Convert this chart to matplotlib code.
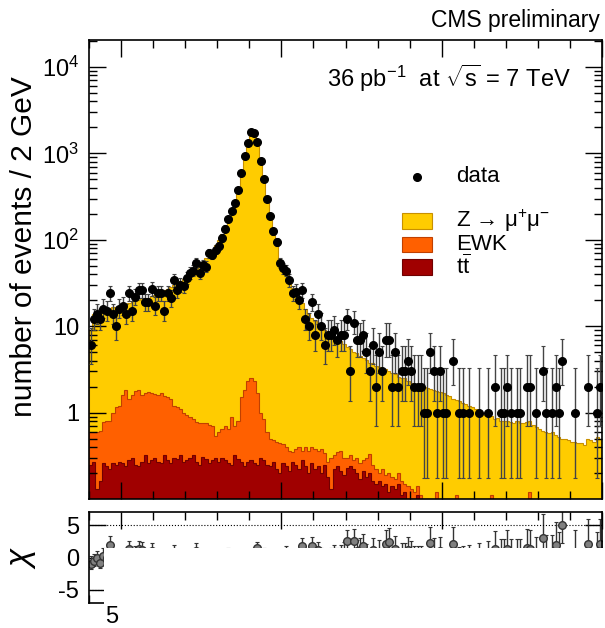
import numpy as np
import matplotlib
matplotlib.use('Agg')
import matplotlib.pyplot as plt
from matplotlib.patches import Rectangle
from matplotlib.ticker import MultipleLocator, LogLocator, NullFormatter

plt.rcParams['font.family'] = ['Liberation Sans', 'DejaVu Sans']
plt.rcParams['mathtext.fontset'] = 'custom'
plt.rcParams['mathtext.rm'] = 'Liberation Sans'
plt.rcParams['mathtext.it'] = 'Liberation Sans:italic'
plt.rcParams['mathtext.sf'] = 'Liberation Sans'

# dimuon mass, 1 GeV bins from 40 to 200 GeV
edges = np.arange(40, 201, 1)
centers = edges[:-1] + 0.5

data = [6, 12, 14, 12, 16, 15, 24, 14, 10, 16,
        17, 14, 24, 15, 22, 26, 26, 19, 19, 27,
        17, 24, 24, 15, 24, 21, 34, 26, 30, 29,
        36, 41, 44, 54, 41, 51, 49, 70, 67, 77,
        85, 105, 135, 175, 215, 265, 380, 590, 940, 1320,
        1750, 1720, 1350, 820, 510, 300, 190, 125, 95, 54,
        47, 44, 34, 24, 25, 20, 26, 12, 10, 19,
        8, 14, 10, 6, 8, 8, 9, 7, 8, 8,
        12, 3, 11, 7, 7, 8, 5, 3, 6, 2,
        5, 3, 7, 7, 2, 5, 2, 3, 3, 4,
        3, 2, 2, 2, 1, 1, 5, 3, 1, 3,
        1, 1, 0, 4, 0, 1, 1, 0, 1, 0,
        0, 1, 0, 0, 1, 0, 2, 0, 1, 1,
        2, 1, 0, 1, 1, 0, 2, 2, 0, 1,
        0, 3, 1, 0, 1, 2, 1, 4, 0, 0,
        0, 1, 0, 0, 0, 2, 0, 0, 1, 2]

# stacked simulation, read as the top of each layer
mc_total = [9, 14, 14.5, 15, 15, 15.5, 16, 16.5, 16.5, 17,
            17.5, 18, 18.5, 19.5, 19.5, 20, 21, 21, 21.5, 22.5,
            23, 24, 25, 26, 27, 28.5, 30, 31.5, 33, 35,
            37, 40, 43, 47, 51, 56, 62, 69, 77, 88,
            100, 118, 140, 170, 215, 280, 390, 600, 950, 1400,
            1750, 1700, 1300, 820, 500, 310, 195, 130, 92, 60,
            48, 40, 33, 28, 24, 21, 18.5, 16, 14, 12.5,
            11.5, 10.5, 9.6, 9, 8.4, 7.9, 7.6, 7, 6.8, 6.2,
            5.8, 5.5, 5.1, 4.9, 4.5, 4.3, 4.1, 3.8, 3.8, 3.5,
            3.4, 3.3, 3.2, 3.0, 2.9, 2.8, 2.6, 2.5, 2.5, 2.3,
            2.2, 2.15, 2.1, 2.1, 2.0, 1.95, 1.9, 1.85, 1.8, 1.75,
            1.7, 1.6, 1.55, 1.45, 1.4, 1.35, 1.3, 1.25, 1.2, 1.15,
            1.1, 1.05, 1.0, 0.95, 0.9, 0.92, 0.85, 0.86, 0.8, 0.8,
            0.8, 0.78, 0.76, 0.8, 0.76, 0.75, 0.77, 0.8, 0.72, 0.68,
            0.65, 0.62, 0.6, 0.58, 0.6, 0.55, 0.52, 0.5, 0.5, 0.48,
            0.46, 0.46, 0.44, 0.45, 0.42, 0.5, 0.48, 0.46, 0.52, 0.5]

mc_ewk_tt = [0.6, 0.6, 0.6, 0.62, 0.78, 0.8, 0.8, 1.0, 1.15, 1.2,
             1.6, 1.85, 1.45, 1.6, 1.8, 1.85, 1.6, 1.7, 1.75, 1.7,
             1.65, 1.6, 1.7, 1.55, 1.5, 1.45, 1.2, 1.15, 1.1, 1.0,
             0.95, 0.9, 0.85, 0.78, 0.76, 0.75, 0.75, 0.72, 0.7, 0.53,
             0.6, 0.65, 0.7, 0.65, 0.9, 0.7, 0.8, 1.5, 1.85, 2.3,
             2.5, 2.3, 1.7, 1.0, 0.85, 0.6, 0.5, 0.48, 0.46, 0.45,
             0.43, 0.4, 0.36, 0.35, 0.38, 0.4, 0.36, 0.4, 0.36, 0.4,
             0.38, 0.36, 0.38, 0.34, 0.27, 0.3, 0.32, 0.35, 0.36, 0.3,
             0.3, 0.32, 0.28, 0.3, 0.26, 0.28, 0.3, 0.33, 0.25, 0.22,
             0.2, 0.22, 0.19, 0.2, 0.18, 0.17, 0.2, 0.16, 0.15, 0.14,
             0.13, 0.12, 0.14, 0.11, 0.1, 0.1, 0.09, 0.08, 0.12, 0.09,
             0.1, 0.08, 0.07, 0.08, 0.11, 0.06, 0.07, 0.05, 0.06, 0.05,
             0.05, 0.04, 0.05, 0.04, 0.05, 0.11, 0.04, 0.05, 0.04, 0.05,
             0.04, 0.05, 0.04, 0.05, 0.04, 0.04, 0.05, 0.12, 0.04, 0.05,
             0.04, 0.04, 0.05, 0.04, 0.04, 0.05, 0.04, 0.04, 0.05, 0.04,
             0.04, 0.04, 0.04, 0.05, 0.04, 0.04, 0.04, 0.05, 0.04, 0.04]

mc_tt = [0.25, 0.27, 0.13, 0.16, 0.26, 0.24, 0.22, 0.26, 0.25, 0.27,
         0.26, 0.24, 0.28, 0.3, 0.25, 0.24, 0.27, 0.32, 0.26, 0.28,
         0.3, 0.27, 0.26, 0.32, 0.28, 0.26, 0.3, 0.29, 0.32, 0.27,
         0.28, 0.3, 0.32, 0.27, 0.25, 0.31, 0.29, 0.26, 0.28, 0.3,
         0.27, 0.3, 0.28, 0.26, 0.25, 0.32, 0.29, 0.27, 0.24, 0.27,
         0.28, 0.26, 0.25, 0.3, 0.28, 0.25, 0.24, 0.27, 0.22, 0.2,
         0.26, 0.24, 0.21, 0.27, 0.25, 0.22, 0.28, 0.24, 0.2, 0.26,
         0.22, 0.24, 0.2, 0.25, 0.18, 0.13, 0.22, 0.24, 0.21, 0.19,
         0.23, 0.24, 0.22, 0.2, 0.17, 0.21, 0.18, 0.2, 0.16, 0.15,
         0.16, 0.14, 0.15, 0.12, 0.14, 0.13, 0.15, 0.11, 0.12, 0.1,
         0.1, 0.09, 0.11, 0.08, 0.07, 0.09, 0.06, 0.07, 0.1, 0.06,
         0.05, 0.06, 0.04, 0.05, 0.08, 0.04, 0.05, 0.03, 0.04, 0.03,
         0.03, 0.03, 0.04, 0.03, 0.03, 0.09, 0.03, 0.03, 0.03, 0.03,
         0.03, 0.03, 0.03, 0.03, 0.03, 0.03, 0.03, 0.1, 0.03, 0.03,
         0.03, 0.03, 0.03, 0.03, 0.03, 0.03, 0.03, 0.03, 0.03, 0.03,
         0.03, 0.03, 0.03, 0.03, 0.03, 0.03, 0.03, 0.03, 0.03, 0.03]

# 68% Garwood intervals for small counts
garwood = {1: (0.173, 3.300), 2: (0.708, 4.638), 3: (1.367, 5.918), 4: (2.086, 7.163),
           5: (2.840, 8.382), 6: (3.620, 9.584), 7: (4.419, 10.77), 8: (5.232, 11.95),
           9: (6.057, 13.11), 10: (6.891, 14.27)}

data = np.array(data, dtype=float)
mc_total = np.array(mc_total)
mask = data > 0
x = centers[mask]
y = data[mask]
lo = np.array([garwood[int(n)][0] if n <= 10 else n - np.sqrt(n + 0.25) + 0.5 for n in y])
hi = np.array([garwood[int(n)][1] if n <= 10 else n + np.sqrt(n + 0.25) + 0.5 for n in y])

fig = plt.figure(figsize=(6.05, 6.28), dpi=100)
ax = fig.add_axes([89/605, 1 - 499/628, 513/605, 459/628])

ax.stairs(mc_total, edges, baseline=1e-3, fill=True, facecolor='#ffcc00', edgecolor='#c89000', lw=0.8)
ax.stairs(mc_ewk_tt, edges, baseline=1e-3, fill=True, facecolor='#ff6000', edgecolor='#c04000', lw=0.8)
ax.stairs(mc_tt, edges, baseline=1e-3, fill=True, facecolor='#a00000', edgecolor='#700000', lw=0.8)
ax.errorbar(x, y, yerr=[y - lo, hi - y], fmt='o', color='black', ms=5.5, elinewidth=1,
            ecolor='#444444', capsize=1.5, capthick=0.8, zorder=5)

ax.set_yscale('log')
ax.set_xlim(40, 200)
ax.set_ylim(0.1, 2.06e4)
ax.set_yticks([1, 10, 100, 1000, 10000])
ax.set_yticklabels(['1', '10', '$10^2$', '$10^3$', '$10^4$'], fontsize=17)
ax.yaxis.set_minor_locator(LogLocator(base=10, subs=np.arange(2, 10), numticks=20))
ax.yaxis.set_minor_formatter(NullFormatter())
ax.xaxis.set_major_locator(MultipleLocator(50))
ax.xaxis.set_minor_locator(MultipleLocator(10))
ax.tick_params(which='both', direction='in', top=True, right=True, labelbottom=False, width=1)
ax.tick_params(which='major', length=12, pad=7)
ax.tick_params(which='minor', length=6)
for s in ax.spines.values():
    s.set_linewidth(1.2)
ax.set_ylabel('number of events / 2 GeV', fontsize=21.5)
ax.yaxis.set_label_coords(-0.1, 0.55)

fig.text(600/605, 1 - 21/628, 'CMS preliminary', ha='right', va='center', fontsize=16.5)
ax.text(0.94, 0.917, r'36 pb$^{\mathrm{-1}}$  at $\sqrt{\mathrm{s}}$ = 7 TeV', transform=ax.transAxes,
        ha='right', va='center', fontsize=17)

# legend
ax.plot([0.639], [0.702], 'o', color='black', ms=5.5, transform=ax.transAxes)
ax.text(0.715, 0.702, 'data', transform=ax.transAxes, va='center', fontsize=16)
legend_rows = [('#ffcc00', '#c89000', 'Z → μ$^{+}$μ$^{-}$', 0.6055),
               ('#ff6000', '#c04000', 'EWK', 0.5545),
               ('#a00000', '#700000', r't$\overline{\mathrm{t}}$', 0.5054)]
for fc, ec, label, yy in legend_rows:
    ax.add_patch(Rectangle((0.6096, yy - 0.017), 0.0585, 0.034, transform=ax.transAxes,
                           facecolor=fc, edgecolor=ec, lw=0.8))
    ax.text(0.715, yy, label, transform=ax.transAxes, va='center', fontsize=16)

# pull panel
ax2 = fig.add_axes([89/605, 1 - 603/628, 513/605, 91/628])
chi = (data - mc_total) / np.sqrt(mc_total)
chi_lo = (y - lo) / np.sqrt(mc_total[mask])
chi_hi = (hi - y) / np.sqrt(mc_total[mask])
ax2.errorbar(x, chi[mask], yerr=[chi_lo, chi_hi], fmt='o', color='#333333', mfc='#808080',
             mec='#333333', ms=5.5, elinewidth=1, capsize=1.5, capthick=0.8)
ax2.axhline(5, color='black', ls=':', lw=0.8)
ax2.axhline(-5, color='black', ls=':', lw=0.8)
ax2.set_xlim(40, 200)
ax2.set_ylim(-7, 7)
ax2.set_yticks([-5, 0, 5])
ax2.set_yticklabels(['-5', '0', '5'], fontsize=17)
ax2.xaxis.set_major_locator(MultipleLocator(50))
ax2.xaxis.set_minor_locator(MultipleLocator(10))
ax2.tick_params(which='both', direction='in', top=True, right=True, labelbottom=False, width=1)
ax2.tick_params(which='major', length=12, pad=7)
ax2.tick_params(which='minor', length=6)
for s in ax2.spines.values():
    s.set_linewidth(1.2)
ax2.set_ylabel(r'$\chi$', fontsize=24)
ax2.yaxis.set_label_coords(-0.1, 0.5)

# the lower part of the pull panel is blank in the reference picture
fig.patches.append(Rectangle((104/605, 0), 501/605, 1 - 548/628, transform=fig.transFigure,
                             facecolor='white', edgecolor='none', zorder=10))
fig.text(112/605, 1 - 617/628, '5', ha='center', va='center', fontsize=17, zorder=11)

fig.savefig('out.png', dpi=100)
